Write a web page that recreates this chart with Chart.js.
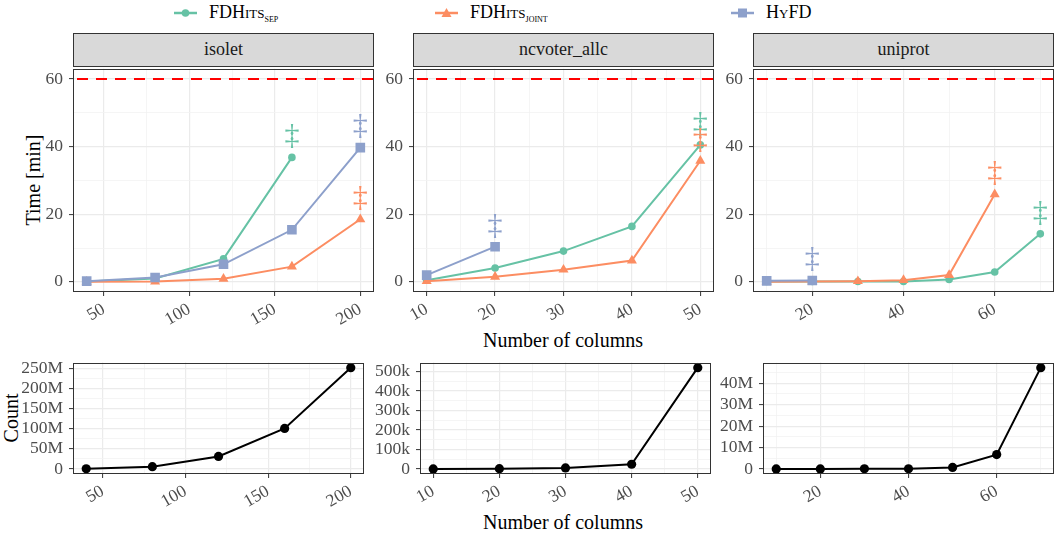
<!DOCTYPE html>
<html>
<head>
<meta charset="utf-8">
<script src="https://cdn.jsdelivr.net/npm/chart.js@4.4.1/dist/chart.umd.min.js"></script>
<style>
  body { margin: 0; width: 1061px; height: 537px; background: #fff; position: relative; overflow: hidden; font-family: 'Liberation Serif', serif; }
  .panel { position: absolute; }
  .strip { position: absolute; background: #d9d9d9; border: 1px solid #333; box-sizing: border-box; text-align: center; font-size: 18px; color: #1a1a1a; line-height: 31px; }
  .title { position: absolute; font-size: 20px; color: #000; white-space: nowrap; transform: translate(-50%, -50%); }
  .rot { transform: translate(-50%, -50%) rotate(-90deg); }
  .leg { position: absolute; top: 2px; display: flex; align-items: center; font-size: 18px; white-space: nowrap; }
  .leg svg { margin-right: 12px; }
  .sc { font-variant: small-caps; }
  .sub { font-variant: small-caps; font-size: 12px; position: relative; top: 4px; }
</style>
</head>
<body>
<div class="leg" style="left:174px"><svg width="23" height="12"><line x1="0" y1="6" x2="23" y2="6" stroke="#66c2a5" stroke-width="2.5"/><circle cx="11.5" cy="6" r="3.8" fill="#66c2a5"/></svg><span>FDH<span class="sc">its</span><span class="sub">sep</span></span></div>
<div class="leg" style="left:435px"><svg width="23" height="12"><line x1="0" y1="6" x2="23" y2="6" stroke="#fc8d62" stroke-width="2.5"/><polygon points="11.5,1 16.5,10 6.5,10" fill="#fc8d62"/></svg><span>FDH<span class="sc">its</span><span class="sub">joint</span></span></div>
<div class="leg" style="left:731px"><svg width="23" height="12"><line x1="0" y1="6" x2="23" y2="6" stroke="#8da0cb" stroke-width="2.5"/><rect x="7" y="1.5" width="9" height="9" fill="#8da0cb"/></svg><span>H<span class="sc">y</span>FD</span></div>

<div class="title rot" style="left:33px;top:180px">Time [min]</div>
<div class="title rot" style="left:11px;top:418px">Count</div>
<div class="title" style="left:563px;top:340px">Number of columns</div>
<div class="title" style="left:563px;top:522px">Number of columns</div>

<script>
// methods and colours (ColorBrewer Set2)
const methodNames = ['FDHits sep', 'FDHits joint', 'HyFD'];
const methodColors = ['#66c2a5', '#fc8d62', '#8da0cb'];
const datasetNames = ['isolet', 'ncvoter_allc', 'uniprot'];
const timeLimit = 60; // minutes

// isolet
const isoletCols = [40, 80, 120, 160, 200];
const isoletSep = [0.1, 1.0, 6.8, 36.8, null];
const isoletJoint = [0.0, 0.1, 0.9, 4.5, 18.5];
const isoletHyfd = [0.2, 1.3, 5.2, 15.4, 39.7];
const isoletFail = [160, 200, 200];
const isoletCount = [0.4e6, 5.6e6, 31e6, 100.5e6, 251.5e6];

// ncvoter_allc
const ncvoterCols = [10, 20, 30, 40, 50];
const ncvoterSep = [0.5, 4.1, 9.1, 16.4, 40.5];
const ncvoterJoint = [0.2, 1.5, 3.6, 6.3, 35.8];
const ncvoterHyfd = [2.0, 10.4, null, null, null];
const ncvoterFail = [50, 50, 20];
const ncvoterCount = [300, 1500, 5000, 24000, 520000];

// uniprot
const uniprotCols = [10, 20, 30, 40, 50, 60, 70];
const uniprotSep = [0.1, 0.1, 0.1, 0.1, 0.7, 2.9, 14.2];
const uniprotJoint = [0.0, 0.1, 0.2, 0.5, 2.0, 25.9, null];
const uniprotHyfd = [0.3, 0.4, null, null, null, null, null];
const uniprotFail = [70, 60, 20];
const uniprotCount = [1000, 10000, 40000, 80000, 0.7e6, 6.7e6, 47.3e6];

// axis breaks
const timeMajor = [0, 20, 40, 60];
const timeMinor = [10, 30, 50];
const isoletXMajor = [50, 100, 150, 200];
const isoletXMinor = [75, 125, 175];
const ncvoterXMajor = [10, 20, 30, 40, 50];
const ncvoterXMinor = [15, 25, 35, 45];
const uniprotXMajor = [20, 40, 60];
const uniprotXMinor = [10, 30, 50, 70];
const isoletCountMajor = [0, 50e6, 100e6, 150e6, 200e6, 250e6];
const isoletCountMinor = [25e6, 75e6, 125e6, 175e6, 225e6];
const ncvoterCountMajor = [0, 100e3, 200e3, 300e3, 400e3, 500e3];
const ncvoterCountMinor = [50e3, 150e3, 250e3, 350e3, 450e3];
const uniprotCountMajor = [0, 10e6, 20e6, 30e6, 40e6];
const uniprotCountMinor = [5e6, 15e6, 25e6, 35e6, 45e6];

const FONT = "'Liberation Serif', serif";
const pointStyles = ['circle', 'triangle', 'rect'];
const pointRadii = [3.8, 5.8, 6.8];

function expand(lo, hi) {
  const d = (hi - lo) * 0.05;
  return [lo - d, hi + d];
}

const deco = {
  id: 'deco',
  beforeDatasetsDraw(chart, args, opts) {
    if (opts.limit == null) return;
    const { ctx, chartArea: a, scales: { y } } = chart;
    const py = Math.round(y.getPixelForValue(opts.limit));
    ctx.save();
    ctx.strokeStyle = '#ff0000';
    ctx.lineWidth = 2;
    ctx.setLineDash([11, 8]);
    ctx.beginPath();
    ctx.moveTo(a.left + 4, py);
    ctx.lineTo(a.right, py);
    ctx.stroke();
    ctx.restore();
  },
  afterDatasetsDraw(chart, args, opts) {
    const { ctx, chartArea: a, scales: { x, y } } = chart;
    ctx.save();
    (opts.fails || []).forEach((col, i) => {
      const ds = chart.data.datasets[i];
      const p = ds.data.find(d => d.x === col && d.y != null);
      if (!p) return;
      ctx.fillStyle = ds.borderColor;
      ctx.font = '30px ' + FONT;
      ctx.textAlign = 'center';
      ctx.textBaseline = 'middle';
      ctx.fillText('\u2021', x.getPixelForValue(p.x), y.getPixelForValue(p.y) - 21);
    });
    ctx.strokeStyle = '#333';
    ctx.lineWidth = 1;
    ctx.strokeRect(Math.round(a.left) + 0.5, Math.round(a.top) + 0.5, Math.round(a.width) - 1, Math.round(a.height) - 1);
    ctx.restore();
  }
};

function axis(range, major, minor, fmt, isX, size) {
  const all = major.concat(minor).sort((p, q) => p - q);
  return {
    type: 'linear',
    min: range[0],
    max: range[1],
    afterBuildTicks: s => { s.ticks = all.map(v => ({ value: v })); },
    afterFit: s => {
      if (isX) s.height = size; else s.width = size;
      s.paddingLeft = 0; s.paddingRight = 0; s.paddingTop = 0; s.paddingBottom = 0;
    },
    ticks: {
      autoSkip: false,
      minRotation: isX ? 30 : 0,
      maxRotation: isX ? 30 : 0,
      padding: isX ? 3 : 6,
      color: '#4d4d4d',
      font: { family: FONT, size: 17.5 },
      callback: v => major.includes(v) ? fmt(v) : ''
    },
    grid: {
      color: c => major.includes(c.tick.value) ? '#ebebeb' : '#f2f2f2',
      lineWidth: c => major.includes(c.tick.value) ? 1.2 : 0.8,
      tickColor: c => major.includes(c.tick.value) ? '#333' : 'rgba(0,0,0,0)',
      tickLength: 4,
      tickWidth: 1
    },
    border: { display: false }
  };
}

function makePanel(p) {
  const yW = 60, padTop = 4, padRight = 10, xH = 44;
  const div = document.createElement('div');
  div.className = 'panel';
  const W = yW + p.plotW + padRight, H = padTop + p.plotH + xH;
  div.style.left = (p.left - yW) + 'px';
  div.style.top = (p.top - padTop) + 'px';
  const cv = document.createElement('canvas');
  cv.width = W; cv.height = H;
  cv.style.width = W + 'px'; cv.style.height = H + 'px';
  div.appendChild(cv);
  document.body.appendChild(div);
  if (p.strip) {
    const st = document.createElement('div');
    st.className = 'strip';
    st.style.left = p.left + 'px';
    st.style.top = (p.top - 33) + 'px';
    st.style.width = p.plotW + 'px';
    st.style.height = '34px';
    st.textContent = p.strip;
    document.body.appendChild(st);
  }
  new Chart(cv, {
    type: 'line',
    data: { datasets: p.datasets },
    options: {
      responsive: false,
      animation: false,
      devicePixelRatio: 1,
      layout: { padding: { top: padTop, right: padRight, left: 0, bottom: 0 } },
      plugins: {
        legend: { display: false },
        tooltip: { enabled: false },
        deco: { limit: p.limit, fails: p.fails }
      },
      scales: {
        x: axis(p.xRange, p.xMajor, p.xMinor, v => String(v), true, xH),
        y: axis(p.yRange, p.yMajor, p.yMinor, p.yFmt, false, yW)
      }
    },
    plugins: [deco]
  });
}

function timeSets(cols, series) {
  return series.map((vals, i) => ({
    label: methodNames[i],
    data: cols.map((c, j) => ({ x: c, y: vals[j] })),
    borderColor: methodColors[i],
    backgroundColor: methodColors[i],
    borderWidth: 2,
    pointStyle: pointStyles[i],
    pointRadius: pointRadii[i],
    pointBorderWidth: 0,
    order: 3 - i,
    spanGaps: false
  }));
}

function countSet(cols, vals) {
  return [{
    data: cols.map((c, j) => ({ x: c, y: vals[j] })),
    borderColor: '#000',
    backgroundColor: '#000',
    borderWidth: 2,
    pointRadius: 4.6,
    pointBorderWidth: 0
  }];
}

const fmtM = v => v === 0 ? '0' : (v / 1e6) + 'M';
const fmtK = v => v === 0 ? '0' : (v / 1e3) + 'k';

const xs = [
  { cols: isoletCols, major: isoletXMajor, minor: isoletXMinor },
  { cols: ncvoterCols, major: ncvoterXMajor, minor: ncvoterXMinor },
  { cols: uniprotCols, major: uniprotXMajor, minor: uniprotXMinor }
];
const timeSeries = [
  [isoletSep, isoletJoint, isoletHyfd],
  [ncvoterSep, ncvoterJoint, ncvoterHyfd],
  [uniprotSep, uniprotJoint, uniprotHyfd]
];
const fails = [isoletFail, ncvoterFail, uniprotFail];
const counts = [isoletCount, ncvoterCount, uniprotCount];
const countTicks = [
  [isoletCountMajor, isoletCountMinor, fmtM],
  [ncvoterCountMajor, ncvoterCountMinor, fmtK],
  [uniprotCountMajor, uniprotCountMinor, fmtM]
];
const topLefts = [73, 413, 753];
const bottomLefts = [73, 420, 763];

for (let i = 0; i < 3; i++) {
  const xr = expand(Math.min(...xs[i].cols), Math.max(...xs[i].cols));
  makePanel({
    left: topLefts[i], top: 66, plotW: 301, plotH: 226,
    strip: datasetNames[i],
    datasets: timeSets(xs[i].cols, timeSeries[i]),
    xRange: xr, xMajor: xs[i].major, xMinor: xs[i].minor,
    yRange: expand(0, timeLimit), yMajor: timeMajor, yMinor: timeMinor, yFmt: v => String(v),
    limit: timeLimit, fails: fails[i]
  });
  makePanel({
    left: bottomLefts[i], top: 362, plotW: 291, plotH: 112,
    datasets: countSet(xs[i].cols, counts[i]),
    xRange: xr, xMajor: xs[i].major, xMinor: xs[i].minor,
    yRange: expand(0, Math.max(...counts[i])), yMajor: countTicks[i][0], yMinor: countTicks[i][1], yFmt: countTicks[i][2]
  });
}
</script>
</body>
</html>
